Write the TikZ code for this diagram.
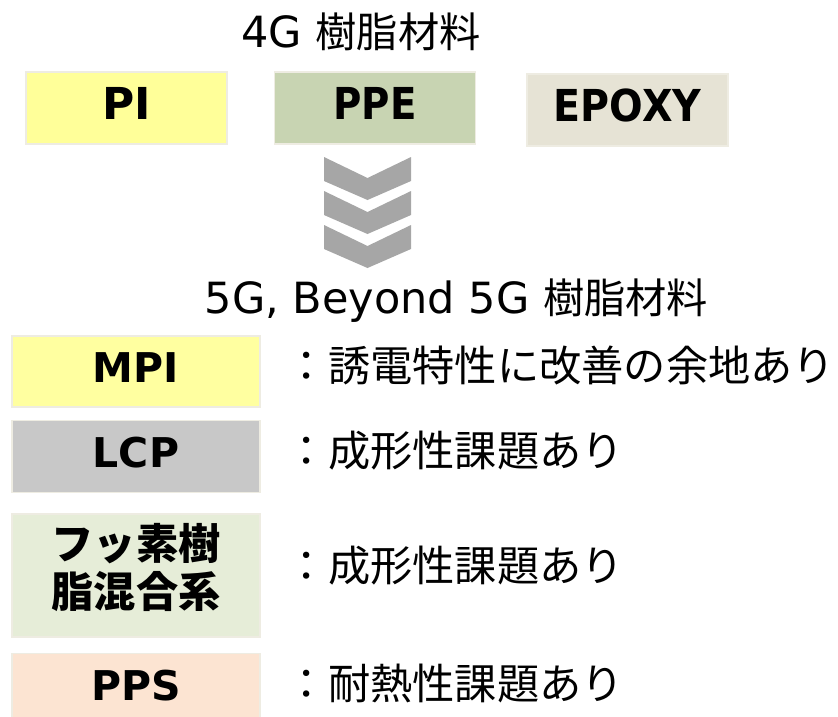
\documentclass[tikz,border=0pt]{standalone}
\usepackage{fontspec}
\setmainfont{DejaVu Sans}
\newfontfamily\jp[Scale=0.96]{Noto Sans CJK JP}
\usetikzlibrary{positioning}
\definecolor{edge}{RGB}{238,236,226}
\definecolor{piyellow}{RGB}{255,255,153}
\definecolor{ppegreen}{RGB}{200,212,178}
\definecolor{epoxygray}{RGB}{230,227,213}
\definecolor{mpiyellow}{RGB}{255,255,160}
\definecolor{lcpgray}{RGB}{200,200,200}
\definecolor{fgreen}{RGB}{230,237,216}
\definecolor{ppspeach}{RGB}{252,228,210}
\definecolor{arrowgray}{RGB}{166,166,166}

\begin{document}
\begin{tikzpicture}[x=1pt,y=-1pt,node distance=12pt,
  title/.style={inner sep=0,anchor=base,font=\fontsize{43}{50}\selectfont},
  oldbox/.style={draw=edge,line width=1.5pt,minimum width=201pt,minimum height=72pt,text depth=10pt,font=\fontsize{44}{50}\selectfont\bfseries},
  newbox/.style={draw=edge,line width=1.5pt,minimum width=248pt,minimum height=71pt,text depth=8pt,font=\fontsize{41}{48}\selectfont\bfseries},
  note/.style={inner sep=0,font=\jp\fontsize{44}{50}\selectfont}]
	  \useasboundingbox (0,0) rectangle (838,716);
	  \node (T4) [title] at (361,47) {4G {\jp 樹脂材料}};
	  \node (PI) [oldbox,fill=piyellow] at (126.5,108) {PI};
	  \node (PPE) [oldbox,fill=ppegreen,right=46pt of PI] {\scalebox{0.88}[1]{PPE}};
	  \node (EPOXY) [oldbox,fill=epoxygray,right=50pt of PPE,yshift=-2pt] {\scalebox{0.9}[1]{EPOXY}};
	  \foreach \y in {157,191,225}
	    \fill[arrowgray] (324,\y) -- (367.5,\y+21) -- (411,\y) -- (411,\y+24) -- (367.5,\y+43) -- (324,\y+24) -- cycle;
	  \node (T5) [title] at (456.5,313) {5G, Beyond 5G {\jp 樹脂材料}};
	  \node (MPI) [newbox,fill=mpiyellow] at (136,371.5) {MPI};
	  \node (LCP) [newbox,fill=lcpgray,below=12pt of MPI,minimum height=72pt] {LCP};
	  \node (F) [newbox,fill=fgreen,below=20pt of LCP,minimum height=123pt,text depth=20pt,align=center,font=\jp\fontsize{44}{48}\selectfont\bfseries] {フッ素樹\\脂混合系};
	  \node (PPS) [newbox,fill=ppspeach,below=15pt of F,minimum height=72pt] {PPS};
	  \node (dMPI) [note,right=25pt of MPI,yshift=6pt] {：誘電特性に改善の余地あり};
	  \node (dLCP) [note,right=25pt of LCP,yshift=6pt] {：成形性課題あり};
	  \node (dF) [note,right=25pt of F,yshift=10pt] {：成形性課題あり};
	  \node (dPPS) [note,right=25pt of PPS,yshift=6pt] {：耐熱性課題あり};
	\end{tikzpicture}
\end{document}
